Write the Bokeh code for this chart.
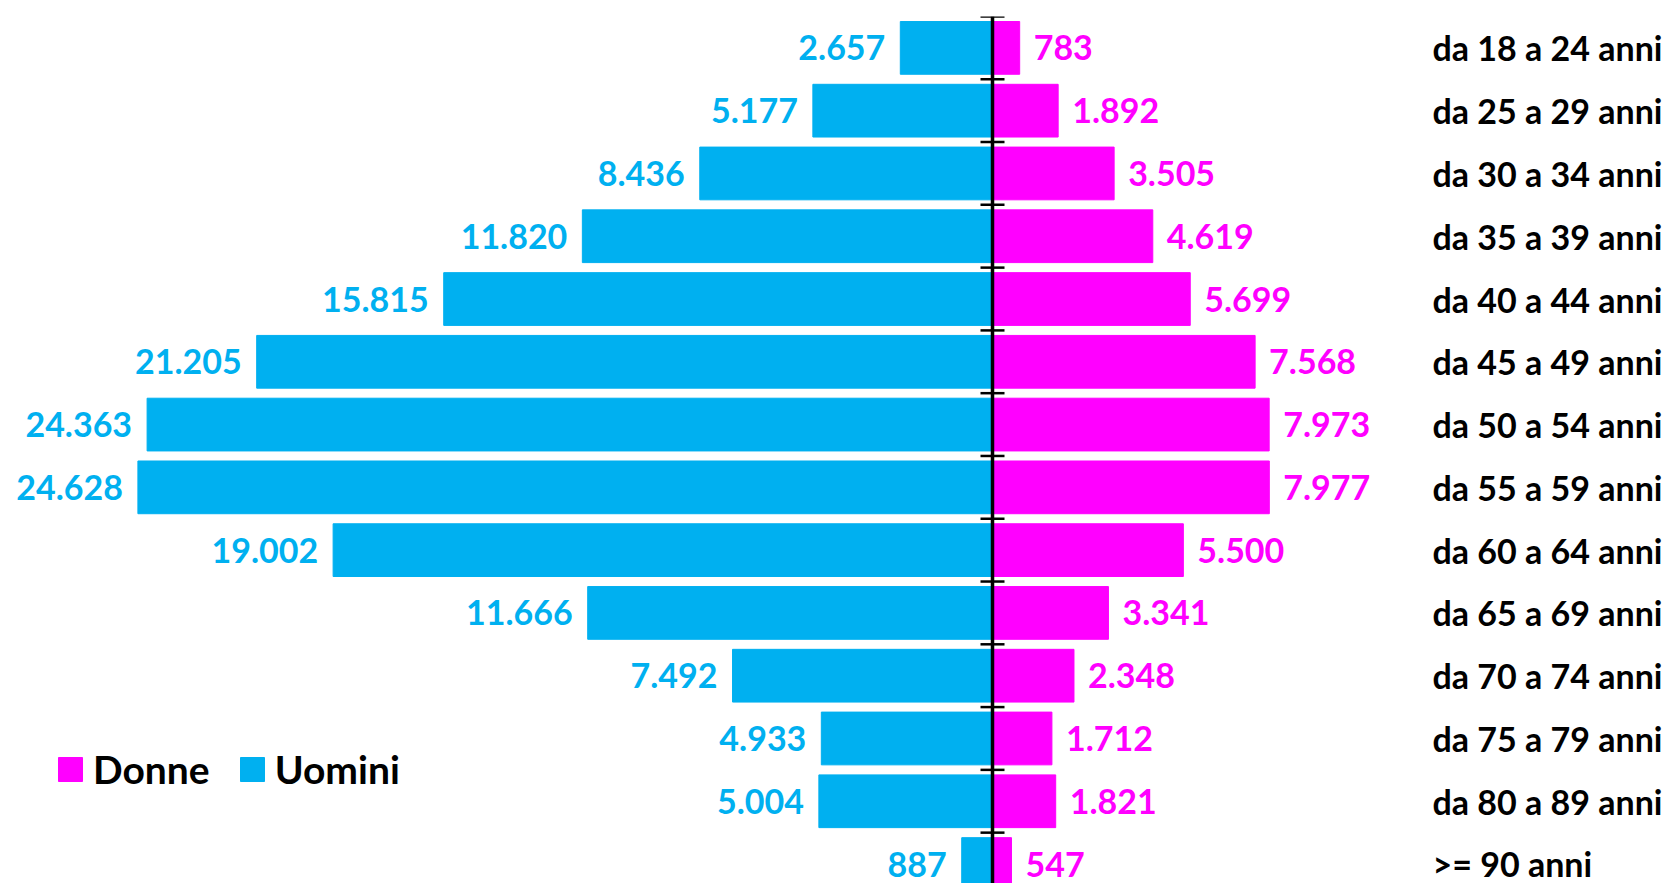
import numpy as np
from bokeh.plotting import figure
from bokeh.models import (ColumnDataSource, Span, Legend, LegendItem,
                          FixedTicker, LinearAxis, Range1d)
from bokeh.core.properties import value
from bokeh.embed import file_html
from bokeh.resources import INLINE

categories = ["da 18 a 24 anni", "da 25 a 29 anni", "da 30 a 34 anni",
              "da 35 a 39 anni", "da 40 a 44 anni", "da 45 a 49 anni",
              "da 50 a 54 anni", "da 55 a 59 anni", "da 60 a 64 anni",
              "da 65 a 69 anni", "da 70 a 74 anni", "da 75 a 79 anni",
              "da 80 a 89 anni", ">= 90 anni"]
uomini = [2657, 5177, 8436, 11820, 15815, 21205, 24363, 24628, 19002,
          11666, 7492, 4933, 5004, 887]
donne = [783, 1892, 3505, 4619, 5699, 7568, 7973, 7977, 5500, 3341,
         2348, 1712, 1821, 547]

BLUE = "#00B0F0"
MAGENTA = "#FF00FF"
FONT = "Lato"


def fmt(v):
    return f"{v:,}".replace(",", ".")


idx = list(range(len(categories)))
src = ColumnDataSource(dict(
    y=idx,
    men_left=[-v for v in uomini],
    women_right=donne,
    zero=[0] * len(idx),
    men_lbl=[fmt(v) for v in uomini],
    women_lbl=[fmt(v) for v in donne],
))

p = figure(frame_width=1417, frame_height=867,
           x_range=Range1d(-28357, 12478),
           y_range=Range1d(13.31, -0.5),
           x_axis_location=None, y_axis_location=None,
           toolbar_location=None, output_backend="svg",
           min_border_left=8, min_border_top=16, min_border_bottom=0,
           min_border_right=0)
p.grid.visible = False
p.outline_line_color = None
p.background_fill_color = "white"
p.border_fill_color = "white"

r_men = p.hbar(y="y", left="men_left", right="zero", height=0.84,
               color=BLUE, source=src)
r_women = p.hbar(y="y", left="zero", right="women_right", height=0.84,
                 color=MAGENTA, source=src)

p.text(x="men_left", y="y", text="men_lbl", source=src,
       text_align="right", text_baseline="middle", x_offset=-15,
       text_font=value(FONT), text_font_style="bold",
       text_font_size="34px", text_color=BLUE)
p.text(x="women_right", y="y", text="women_lbl", source=src,
       text_align="left", text_baseline="middle", x_offset=14,
       text_font=value(FONT), text_font_style="bold",
       text_font_size="34px", text_color=MAGENTA)

# central axis with boundary ticks
p.add_layout(Span(location=0, dimension="height", line_color="black",
                  line_width=3.5))
bounds = np.arange(len(categories) + 1) - 0.5
p.scatter(x=[0] * len(bounds), y=bounds, marker="dash", size=24,
          line_color="black", line_width=2.5)

# category labels on the right
ax = LinearAxis(ticker=FixedTicker(ticks=idx),
                major_label_overrides={i: c for i, c in zip(idx, categories)})
ax.axis_line_color = None
ax.major_tick_line_color = None
ax.minor_tick_line_color = None
ax.major_tick_in = 0
ax.major_tick_out = 0
ax.major_label_standoff = 7
ax.major_label_text_font = FONT
ax.major_label_text_font_style = "bold"
ax.major_label_text_font_size = "34px"
ax.major_label_text_color = "black"
p.add_layout(ax, "right")

legend = Legend(items=[LegendItem(label="Donne", renderers=[r_women]),
                       LegendItem(label="Uomini", renderers=[r_men])],
                orientation="horizontal", location=(47, 91),
                glyph_width=30, glyph_height=30, label_standoff=8,
                spacing=27, padding=0, margin=0,
                label_text_font=FONT, label_text_font_style="bold",
                label_text_font_size="39px", label_text_color="black",
                border_line_color=None, background_fill_alpha=0)
p.add_layout(legend)

open("out.html", "w").write(file_html(p, INLINE))
